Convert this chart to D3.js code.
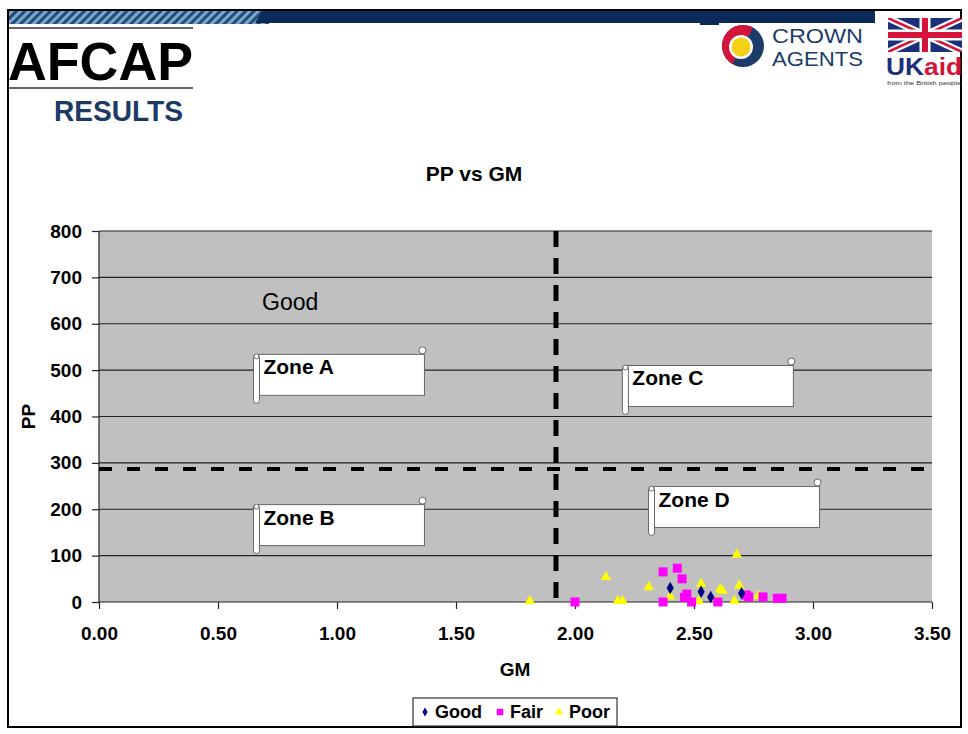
<!DOCTYPE html>
<html>
<head>
<meta charset="utf-8">
<script src="https://cdn.jsdelivr.net/npm/d3@7"></script>
<style>
  body { margin: 0; background: #fff; }
  svg text { font-family: "Liberation Sans", Arial, sans-serif; }
</style>
</head>
<body>
<div id="chart"></div>
<script>
// data
var goodGM = [2.40, 2.53, 2.57, 2.70];
var goodPP = [30, 22, 11, 19];

var fairGM = [2.00, 2.37, 2.37, 2.43, 2.45, 2.46, 2.47, 2.49, 2.60, 2.72, 2.73, 2.79, 2.85, 2.87];
var fairPP = [0, 65, 0, 73, 50, 10, 17, 0, 0, 15, 11, 11, 8, 8];

var poorGM = [1.81, 2.13, 2.18, 2.20, 2.31, 2.40, 2.52, 2.53, 2.60, 2.61, 2.62, 2.67, 2.68, 2.69, 2.77];
var poorPP = [0, 52, 0, 0, 30, 10, 0, 37, 0, 25, 22, 0, 100, 33, 11];

var xTicks = [0, 0.5, 1, 1.5, 2, 2.5, 3, 3.5];
var yTicks = [0, 100, 200, 300, 400, 500, 600, 700, 800];

var gmLimit = 1.92;
var ppLimit = 287;

var zoneNames = ["Zone A", "Zone B", "Zone C", "Zone D"];
var zoneGM = [0.67, 0.67, 2.22, 2.33];
var zonePP = [534, 210, 510, 249];
var legendNames = ["Good", "Fair", "Poor"];

var svg = d3.select("#chart").append("svg")
    .attr("width", 968)
    .attr("height", 734);

var x = d3.scaleLinear().domain([0, 3.5]).range([99, 932]);
var y = d3.scaleLinear().domain([0, 800]).range([602, 231]);

// ---- page frame and header ----
var defs = svg.append("defs");
var pat = defs.append("pattern")
    .attr("id", "stripes")
    .attr("width", 6).attr("height", 6)
    .attr("patternUnits", "userSpaceOnUse")
    .attr("patternTransform", "rotate(45)");
pat.append("rect").attr("width", 6).attr("height", 6).attr("fill", "#7ea6c9");
pat.append("rect").attr("width", 3).attr("height", 6).attr("fill", "#1f4d7d");

svg.append("rect").attr("x", 8).attr("y", 10).attr("width", 953).attr("height", 717)
    .attr("fill", "none").attr("stroke", "#000").attr("stroke-width", 2);
svg.append("rect").attr("x", 9).attr("y", 11).attr("width", 260).attr("height", 13)
    .attr("fill", "url(#stripes)");
svg.append("polygon").attr("points", "262,11 875,11 875,23 719,23 719,25 700,25 700,23 255,23")
    .attr("fill", "#0b2a5a");

// AFCAP logo
svg.append("line").attr("x1", 9).attr("x2", 193).attr("y1", 28).attr("y2", 28).attr("stroke", "#333").attr("stroke-width", 1.5);
svg.append("line").attr("x1", 9).attr("x2", 193).attr("y1", 88).attr("y2", 88).attr("stroke", "#333").attr("stroke-width", 1.5);
svg.append("text").attr("x", 8).attr("y", 80)
    .attr("font-size", 53).attr("font-weight", "bold").attr("fill", "#000")
    .attr("textLength", 185).attr("lengthAdjust", "spacingAndGlyphs")
    .text("AFCAP");
svg.append("text").attr("x", 54).attr("y", 121)
    .attr("font-size", 29).attr("font-weight", "bold").attr("fill", "#1b3a66")
    .attr("textLength", 129).attr("lengthAdjust", "spacingAndGlyphs")
    .text("RESULTS");

// Crown Agents logo
var ca = svg.append("g").attr("transform", "translate(743,46)");
ca.append("circle").attr("r", 21).attr("fill", "#1d3b6b");
ca.append("path").attr("fill", "#d4143a")
    .attr("d", d3.arc().innerRadius(0).outerRadius(21).startAngle(-2.6).endAngle(0.5)());
ca.append("circle").attr("cx", -2).attr("cy", 1).attr("r", 12).attr("fill", "#fff");
ca.append("circle").attr("cx", -2).attr("cy", 1).attr("r", 9.5).attr("fill", "#f7d117");
svg.append("text").attr("x", 772).attr("y", 43).attr("font-size", 20).attr("fill", "#1d3b6b")
    .attr("textLength", 91).attr("lengthAdjust", "spacingAndGlyphs")
    .text("CROWN");
svg.append("text").attr("x", 772).attr("y", 66).attr("font-size", 20).attr("fill", "#1d3b6b")
    .attr("textLength", 91).attr("lengthAdjust", "spacingAndGlyphs")
    .text("AGENTS");

// UK aid logo
var fl = svg.append("g").attr("transform", "translate(888,18)");
defs.append("clipPath").attr("id", "flagclip").append("rect").attr("width", 74).attr("height", 34);
var flag = fl.append("g").attr("clip-path", "url(#flagclip)");
flag.append("rect").attr("width", 74).attr("height", 34).attr("fill", "#1d2f7a");
flag.append("path").attr("d", "M0,0L74,34M74,0L0,34").attr("stroke", "#fff").attr("stroke-width", 7);
flag.append("path").attr("d", "M0,0L74,34M74,0L0,34").attr("stroke", "#d4143a").attr("stroke-width", 2.5);
flag.append("path").attr("d", "M37,0V34M0,17H74").attr("stroke", "#fff").attr("stroke-width", 11);
flag.append("path").attr("d", "M37,0V34M0,17H74").attr("stroke", "#d4143a").attr("stroke-width", 6);
var uk = svg.append("text").attr("x", 886).attr("y", 75).attr("font-size", 23).attr("font-weight", "bold")
    .attr("textLength", 76).attr("lengthAdjust", "spacingAndGlyphs");
uk.append("tspan").attr("fill", "#1d2f7a").text("UK");
uk.append("tspan").attr("fill", "#d4143a").text("aid");
svg.append("text").attr("x", 887).attr("y", 85).attr("font-size", 5).attr("fill", "#333")
    .attr("textLength", 74).attr("lengthAdjust", "spacingAndGlyphs")
    .text("from the British people");

// ---- chart ----
svg.append("text").attr("x", 474).attr("y", 181).attr("text-anchor", "middle")
    .attr("font-size", 21).attr("font-weight", "bold").text("PP vs GM");

svg.append("rect").attr("x", x(0)).attr("y", y(800))
    .attr("width", x(3.5) - x(0)).attr("height", y(0) - y(800))
    .attr("fill", "#c0c0c0");

// gridlines
svg.append("g").selectAll("line").data(yTicks.slice(1)).enter().append("line")
    .attr("x1", x(0)).attr("x2", x(3.5))
    .attr("y1", function(d) { return y(d); }).attr("y2", function(d) { return y(d); })
    .attr("stroke", "#222").attr("stroke-width", 1.2);

// axes
var yAxis = svg.append("g").attr("transform", "translate(" + x(0) + ",0)")
    .call(d3.axisLeft(y).tickValues(yTicks).tickSize(7).tickPadding(10).tickFormat(d3.format("d")));
var xAxis = svg.append("g").attr("transform", "translate(0," + y(0) + ")")
    .call(d3.axisBottom(x).tickValues(xTicks).tickSize(7).tickPadding(18).tickFormat(d3.format(".2f")));
[xAxis, yAxis].forEach(function(ax) {
    ax.select(".domain").attr("stroke", "#222").attr("stroke-width", 1.2);
    ax.selectAll(".tick line").attr("stroke", "#222").attr("stroke-width", 1.2);
    ax.selectAll("text").attr("font-size", 19).attr("font-weight", "bold").attr("fill", "#000")
        .style("font-family", "'Liberation Sans', Arial, sans-serif");
});
yAxis.select(".domain").attr("d", "M0," + y(800) + "V" + y(0));
xAxis.select(".domain").attr("d", "M" + x(0) + ",0H" + x(3.5));

svg.append("text").attr("transform", "translate(35," + y(400) + ") rotate(-90)")
    .attr("text-anchor", "middle").attr("font-size", 19).attr("font-weight", "bold").text("PP");
svg.append("text").attr("x", 515).attr("y", 676).attr("text-anchor", "middle")
    .attr("font-size", 19).attr("font-weight", "bold").text("GM");

// threshold lines
svg.append("line").attr("x1", x(0)).attr("x2", x(3.5)).attr("y1", y(ppLimit)).attr("y2", y(ppLimit))
    .attr("stroke", "#000").attr("stroke-width", 4).attr("stroke-dasharray", "13,15");
svg.append("line").attr("x1", x(gmLimit)).attr("x2", x(gmLimit)).attr("y1", y(800)).attr("y2", y(0))
    .attr("stroke", "#000").attr("stroke-width", 5).attr("stroke-dasharray", "16,11");

svg.append("text").attr("x", x(0.685)).attr("y", y(630)).attr("font-size", 23).attr("fill", "#000").text("Good");

// zone scrolls
var zone = svg.append("g").selectAll("g").data(zoneNames).enter().append("g")
    .attr("transform", function(d, i) { return "translate(" + x(zoneGM[i]) + "," + y(zonePP[i]) + ")"; });
zone.append("rect").attr("x", 0).attr("y", 0).attr("width", 166).attr("height", 41)
    .attr("fill", "#fff").attr("stroke", "#666").attr("stroke-width", 1);
zone.append("rect").attr("x", -5).attr("y", 0).attr("width", 6).attr("height", 49).attr("rx", 3)
    .attr("fill", "#fff").attr("stroke", "#666").attr("stroke-width", 1);
zone.append("circle").attr("cx", -2).attr("cy", 2).attr("r", 2.5)
    .attr("fill", "#fff").attr("stroke", "#666").attr("stroke-width", 1);
zone.append("circle").attr("cx", 164).attr("cy", -4).attr("r", 3.5)
    .attr("fill", "#fff").attr("stroke", "#666").attr("stroke-width", 1);
zone.append("text").attr("x", 5).attr("y", 20).attr("font-size", 21).attr("font-weight", "bold")
    .text(function(d) { return d; });

// points
function pts(gm, pp) { return gm.map(function(g, i) { return [g, pp[i]]; }); }

svg.append("g").selectAll("path").data(pts(poorGM, poorPP)).enter().append("path")
    .attr("d", d3.symbol().type(d3.symbolTriangle).size(48))
    .attr("transform", function(d) { return "translate(" + x(d[0]) + "," + (y(d[1]) - 1) + ")"; })
    .attr("fill", "#ffff00");
svg.append("g").selectAll("rect").data(pts(fairGM, fairPP)).enter().append("rect")
    .attr("x", function(d) { return x(d[0]) - 4.5; }).attr("y", function(d) { return y(d[1]) - 4.5; })
    .attr("width", 9).attr("height", 9)
    .attr("fill", "#ff00ff");
svg.append("g").selectAll("path").data(pts(goodGM, goodPP)).enter().append("path")
    .attr("d", d3.symbol().type(d3.symbolDiamond).size(45))
    .attr("transform", function(d) { return "translate(" + x(d[0]) + "," + y(d[1]) + ")"; })
    .attr("fill", "#000080");

// legend
var lg = svg.append("g").attr("transform", "translate(413,698)");
lg.append("rect").attr("width", 204).attr("height", 28).attr("fill", "#fff")
    .attr("stroke", "#333").attr("stroke-width", 1.2);
var lgX = [12, 87, 146];
var item = lg.selectAll("g.it").data(legendNames).enter().append("g")
    .attr("transform", function(d, i) { return "translate(" + lgX[i] + ",14)"; });
item.append("path")
    .attr("d", function(d, i) {
        var t = [d3.symbolDiamond, d3.symbolSquare, d3.symbolTriangle][i];
        return d3.symbol().type(t).size([24, 42, 30][i])();
    })
    .attr("fill", function(d, i) { return ["#000080", "#ff00ff", "#ffff00"][i]; });
item.append("text").attr("x", 10).attr("y", 6).attr("font-size", 18).attr("font-weight", "bold")
    .text(function(d) { return d; });
</script>
</body>
</html>
